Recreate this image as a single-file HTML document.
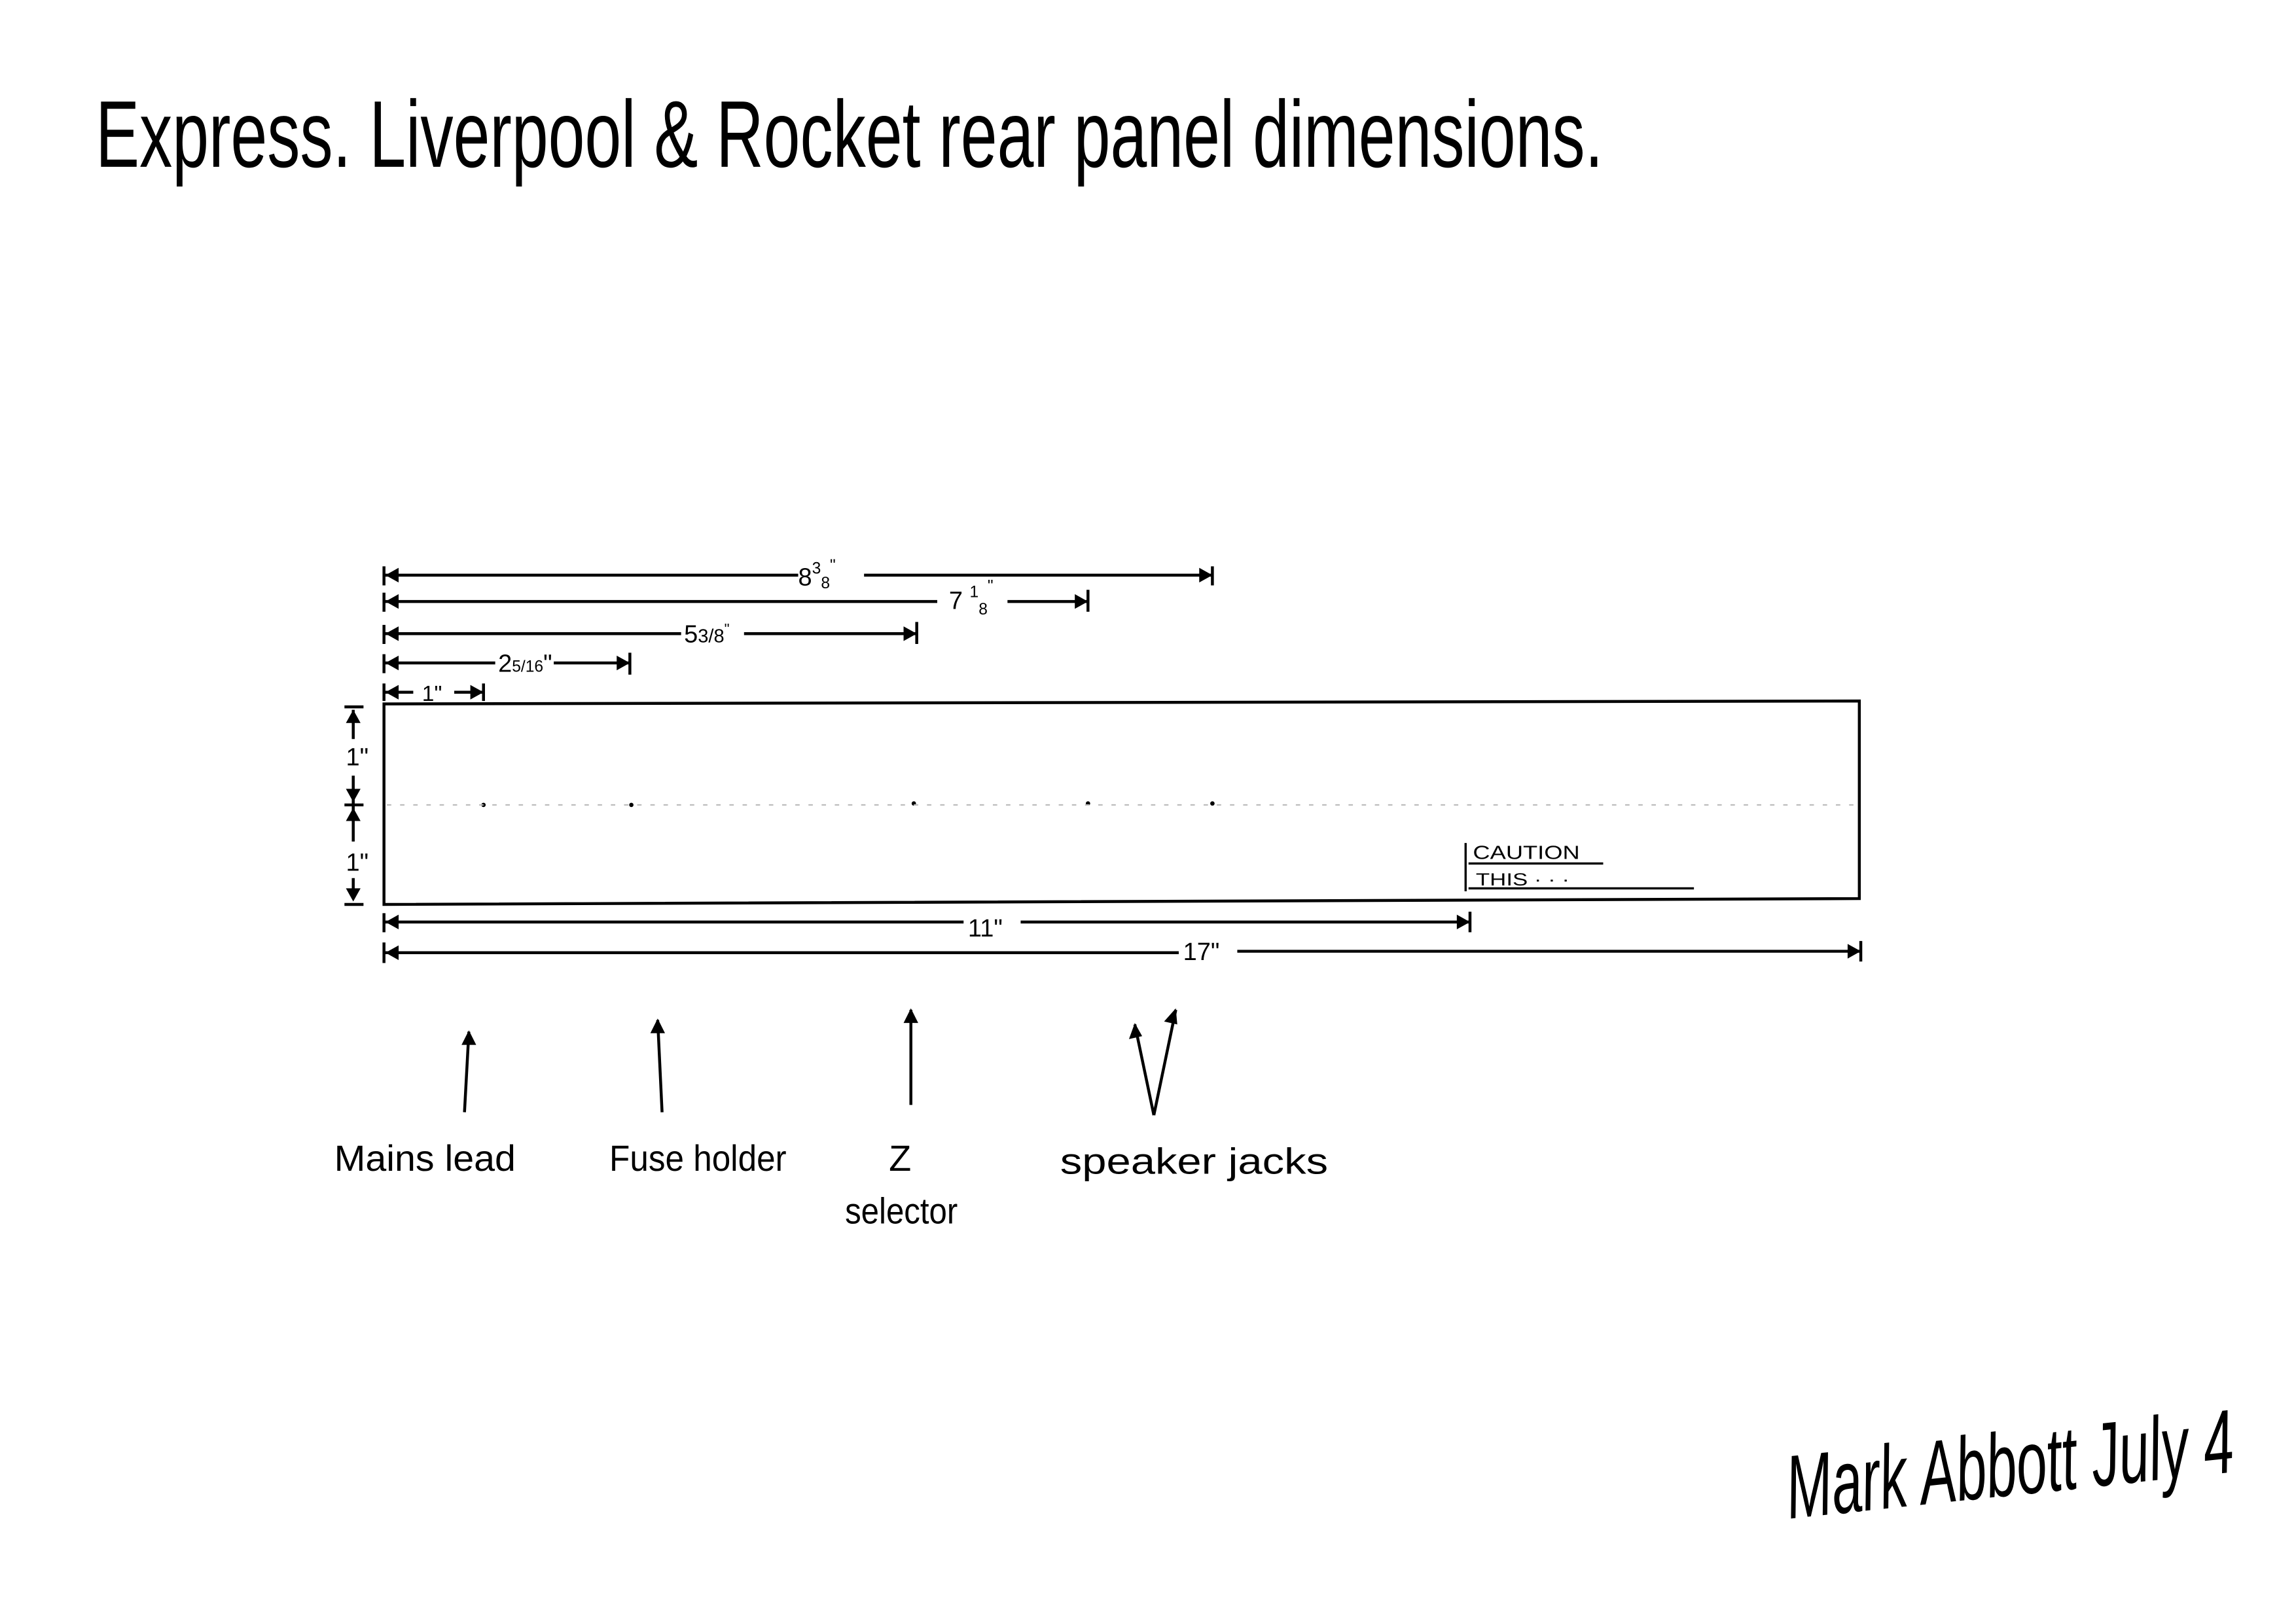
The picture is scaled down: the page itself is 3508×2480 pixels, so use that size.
<!DOCTYPE html>
<html><head><meta charset="utf-8"><style>
html,body{margin:0;padding:0;background:#fff;}
svg{display:block;}
text{font-family:"Liberation Sans",sans-serif;fill:#000;}
</style></head><body>
<svg width="3508" height="2480" viewBox="0 0 1568 1109" xmlns="http://www.w3.org/2000/svg">
<rect width="1568" height="1109" fill="#fff"/>
<g transform="translate(0,114) scale(1,1.35)">
<text x="65" y="0" font-size="48" textLength="1030" lengthAdjust="spacingAndGlyphs">Express. Liverpool &amp; Rocket  rear  panel  dimensions.</text>
</g>
<g stroke="#000" fill="none" stroke-width="2">
<path d="M262 481 L1270 479 L1270 614 L262 618 Z"/>
<path d="M262 393 H545 M590 393 H828 M262 387 V400 M828 387 V400"/>
<path d="M262 411 H640 M688 411 H743 M262 405 V418 M743 403 V418"/>
<path d="M262 433 H465 M508 433 H626 M262 427 V440 M626 425 V440"/>
<path d="M262 453 H338 M378 453 H430 M262 447 V460 M430 446 V461"/>
<path d="M262 473 H282 M310 473 H330 M262 467 V479 M330 467 V479"/>
<path d="M262 630 H658 M697 630 H1004 M262 624 V637 M1004 623 V637"/>
<path d="M262 651 H805 M845 650 H1271 M262 644 V658 M1271 643 V657"/>
<path d="M241 485 V505 M241 530 V550 M241 550 V575 M241 600 V614 M235 483 H248 M235 550 H248 M235 618 H248"/>
<path d="M317 760 L320 705 M452 760 L449 697 M622 755 L622 690 M788 762 L775 700 M788 762 L803 690"/>
<path d="M1001 576 V609 M1003 590 H1095 M1003 607 H1157" stroke-width="1.5"/>
</g>
<g fill="#000">
<path d="M263 393 l9 -5 v10z M828 393 l-9 -5 v10z"/>
<path d="M263 411 l9 -5 v10z M743 411 l-9 -5 v10z"/>
<path d="M263 433 l9 -5 v10z M626 433 l-9 -5 v10z"/>
<path d="M263 453 l9 -5 v10z M430 453 l-9 -5 v10z"/>
<path d="M263 473 l9 -5 v10z M330 473 l-9 -5 v10z"/>
<path d="M263 630 l9 -5 v10z M1004 630 l-9 -5 v10z"/>
<path d="M263 651 l9 -5 v10z M1271 650 l-9 -5 v10z"/>
<path d="M241 485 l-5 9 h10z M241 548 l-5 -9 h10z M241 552 l-5 9 h10z M241 616 l-5 -9 h10z"/>
<path d="M320 704 l-5 10 h10z M449 696 l-5 10 h10z M622 689 l-5 10 h10z M775 699 l-4 11 l9 -2z M803 689 l-8 9 l9 2z"/>
<circle cx="330" cy="550" r="1.5"/><circle cx="431" cy="550" r="1.5"/><circle cx="624" cy="549" r="1.5"/><circle cx="743" cy="549" r="1.5"/><circle cx="828" cy="549" r="1.5"/>
</g>
<path d="M264 550 H1270" stroke="#bbb" stroke-width="1" stroke-dasharray="3 6"/>
<g font-size="17">
<text x="545" y="400">8<tspan font-size="11" dy="-8">3</tspan><tspan font-size="11" dy="10">8</tspan><tspan font-size="11" dy="-12">"</tspan></text>
<text x="648" y="416">7 <tspan font-size="11" dy="-8">1</tspan><tspan font-size="11" dy="12">8</tspan><tspan font-size="11" dy="-16">"</tspan></text>
<text x="467" y="439">5<tspan font-size="13">3/8</tspan><tspan font-size="10" dy="-6">"</tspan></text>
<text x="340" y="459">2<tspan font-size="11">5/16</tspan>"</text>
<text x="288" y="479" font-size="15">1"</text>
<text x="236" y="523">1"</text>
<text x="236" y="595">1"</text>
<text x="661" y="640">11"</text>
<text x="808" y="656">17"</text>
</g>
<text x="1006" y="587" font-size="13" textLength="73" lengthAdjust="spacingAndGlyphs">CAUTION</text>
<text x="1008" y="605" font-size="12" textLength="64" lengthAdjust="spacingAndGlyphs">THIS · · ·</text>
<g font-size="25">
<text x="228" y="800" textLength="124" lengthAdjust="spacingAndGlyphs">Mains lead</text>
<text x="416" y="800" textLength="121" lengthAdjust="spacingAndGlyphs">Fuse holder</text>
<text x="607" y="800">Z</text>
<text x="577" y="836" textLength="77" lengthAdjust="spacingAndGlyphs">selector</text>
<text x="724" y="802" textLength="183" lengthAdjust="spacingAndGlyphs">speaker  jacks</text>
</g>
<g transform="rotate(-6 1370 990) translate(0,1022) scale(1,1.4)">
<text x="1218" y="0" font-size="44" font-style="italic" textLength="307" lengthAdjust="spacingAndGlyphs">Mark Abbott July 4</text>
</g>
</svg>
</body></html>
